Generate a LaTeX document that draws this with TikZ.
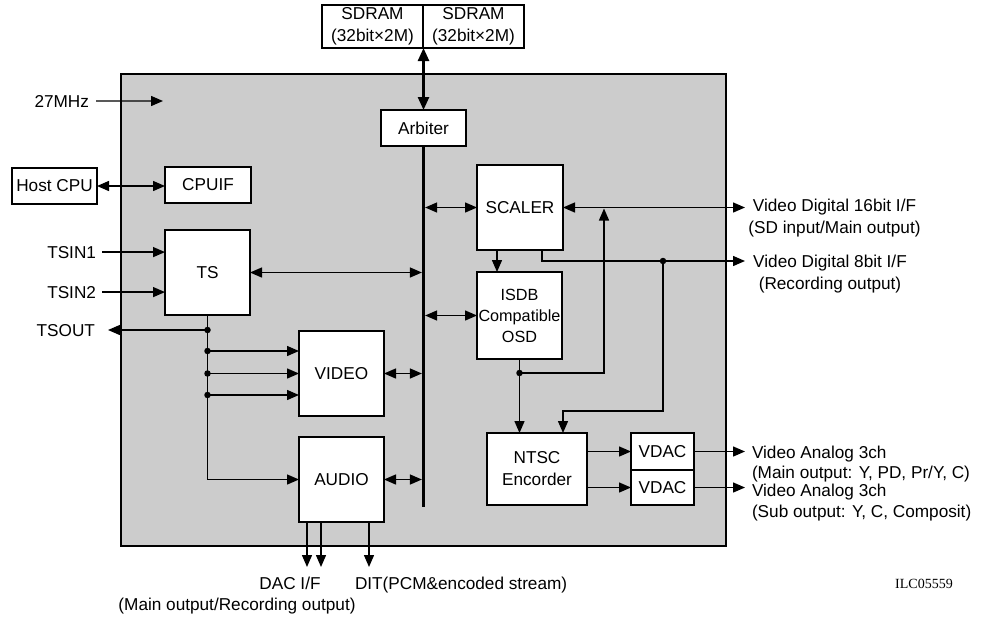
\documentclass[tikz,border=0pt]{standalone}
\usepackage{fontspec}
\setmainfont{Liberation Sans}
\newfontfamily\timesfont{Liberation Serif}
\usetikzlibrary{arrows.meta}
\definecolor{chipgray}{HTML}{CCCCCC}
\begin{document}
\begin{tikzpicture}[x=1pt,y=-1pt,
  font=\fontsize{17.2}{22}\selectfont,
  >={Triangle[length=12pt,width=10pt]},
  box/.style={draw, fill=white, line width=1.4pt, inner sep=0pt, outer sep=0pt, align=center, anchor=north west},
  ln/.style={line width=1.4pt},
  txt/.style={inner sep=0pt, outer sep=0pt},
  dotc/.style={fill, circle, inner sep=0pt, minimum size=6.5pt}]
\useasboundingbox (0,0) rectangle (981,619);
% chip
\node[draw, fill=chipgray, line width=1.4pt, inner sep=0pt, outer sep=0pt, minimum width=605pt, minimum height=472pt, anchor=north west] (chip) at (121,74) {};
% boxes
\node[box, minimum width=101pt, minimum height=43pt] (sdl) at (322,5) {SDRAM\\(32bit×2M)};
\node[box, minimum width=101pt, minimum height=43pt] (sdr) at (423,5) {SDRAM\\(32bit×2M)};
\node[box, minimum width=85pt, minimum height=36pt] (arb) at (381,110) {Arbiter};
\node[box, minimum width=85pt, minimum height=36pt] (host) at (12,168) {Host CPU};
\node[box, minimum width=86pt, minimum height=36pt] (cpuif) at (165,167) {CPUIF};
\node[box, minimum width=85pt, minimum height=85pt] (ts) at (165,230) {TS};
\node[box, minimum width=85pt, minimum height=85pt] (video) at (299,331) {VIDEO};
\node[box, minimum width=85pt, minimum height=85pt] (audio) at (299,437) {AUDIO};
\node[box, minimum width=86pt, minimum height=85pt] (scaler) at (477,165) {SCALER};
\node[box, minimum width=85pt, minimum height=87pt, font=\fontsize{16.2}{21}\selectfont] (osd) at (477,272) {ISDB\\Compatible\\OSD};
\node[box, minimum width=100pt, minimum height=72pt] (ntsc) at (487,433) {NTSC\\Encorder};
\node[box, minimum width=63pt, minimum height=37pt] (vdac1) at (631,433) {VDAC};
\node[box, minimum width=63pt, minimum height=35pt] (vdac2) at (631,470) {VDAC};
% bus
\coordinate (bb) at (423.5,507);
\draw[line width=3.2pt] (arb.south) -- (bb);
\draw[line width=2.4pt,{Triangle[length=13pt,width=11pt]}-{Triangle[length=13pt,width=11pt]}] (arb.north |- sdl.south east) -- (arb.north);
% left inputs
\node[txt, anchor=base east] (t27) at (89,107) {27MHz};
\coordinate (c27) at (163,101);
\draw[ln,->] ([xshift=7pt]t27.east) -- (c27);
\draw[ln,<->] (host.east) -- (host.east -| cpuif.west);
\node[txt, anchor=base east] (tsin1) at (96,258) {TSIN1};
\node[txt, anchor=base east] (tsin2) at (96,298) {TSIN2};
\node[txt, anchor=base east] (tsout) at (95,336) {TSOUT};
\draw[ln,->] ([xshift=6pt]tsin1.east) -- (tsin1.east -| ts.west);
\draw[ln,->] ([xshift=6pt]tsin2.east) -- (tsin2.east -| ts.west);
% TS trunk
\coordinate (j0) at (ts.south |- 0,330);
\coordinate (j1) at (ts.south |- 0,351);
\coordinate (j2) at (ts.south |- 0,373.5);
\coordinate (j3) at (ts.south |- 0,395);
\draw[ln,->] (ts.south) |- (audio.west);
\draw[ln,->] (j0) -- ([xshift=13pt]tsout.east |- j0);
\draw[ln,->] (j1) -- (j1 -| video.west);
\draw[ln,->] (j2) -- (j2 -| video.west);
\draw[ln,->] (j3) -- (j3 -| video.west);
\foreach \j in {j0,j1,j2,j3} \node[dotc] at (\j) {};
% bus connections
\draw[ln,<->] (ts.east) -- ([xshift=-1.6pt]bb |- ts.east);
\draw[ln,<->] (video.east) -- ([xshift=-1.6pt]bb |- video.east);
\draw[ln,<->] (audio.east) -- ([xshift=-1.6pt]bb |- audio.east);
\draw[ln,<->] (scaler.west) -- ([xshift=1.6pt]bb |- scaler.west);
\draw[ln,<->] (osd.west) -- ([xshift=1.6pt]bb |- osd.west);
% scaler / osd / ntsc
\coordinate (o16) at (745,207.5);
\coordinate (o8) at (745,261);
\coordinate (j8) at (663,261);
\coordinate (k) at (563,411);
\coordinate (jo) at (osd.south |- 0,373);
\coordinate (up) at (604,208.5);
\draw[ln,<->] (scaler.east) -- (o16);
\draw[ln,->] ([xshift=20pt]scaler.south west) -- ([xshift=20pt]scaler.south west |- osd.north);
\draw[ln,->] ([xshift=-21pt]scaler.south east) |- (o8);
\draw[ln,->] (j8) |- (k) -- (k |- ntsc.north);
\draw[ln,->] (osd.south) -- (osd.south |- ntsc.north);
\draw[ln,->] (jo) -| (up);
\node[dotc] at (j8) {};
\node[dotc] at (jo) {};
\draw[ln,->] (ntsc.east |- vdac1.west) -- (vdac1.west);
\draw[ln,->] (ntsc.east |- vdac2.west) -- (vdac2.west);
\draw[ln,->] (vdac1.east) -- (vdac1.east -| o16);
\draw[ln,->] (vdac2.east) -- (vdac2.east -| o16);
% audio outputs
\draw[ln,->] ([xshift=8pt]audio.south west) -- +(0,45);
\draw[ln,->] ([xshift=22pt]audio.south west) -- +(0,45);
\draw[ln,->] ([xshift=70pt]audio.south west) -- +(0,45);
% right texts
\node[txt, anchor=base] (vd16a) at (834.5,211) {Video Digital 16bit I/F};
\node[txt, anchor=base] (vd16b) at (834.5,233) {(SD input/Main output)};
\node[txt, anchor=base] (vd8a) at (830,267) {Video Digital 8bit I/F};
\node[txt, anchor=base] (vd8b) at (830,289) {(Recording output)};
\node[txt, anchor=base west] (va1a) at (752,458) {Video Analog 3ch};
\node[txt, anchor=base west] (va1b) at (752,478) {(Main output: Y, PD, Pr/Y, C)};
\node[txt, anchor=base west] (va2a) at (752,496) {Video Analog 3ch};
\node[txt, anchor=base west] (va2b) at (752,517) {(Sub output: Y, C, Composit)};
% bottom texts
\node[txt, anchor=base] (dac) at (290,589) {DAC I/F};
\node[txt, anchor=base west] (dit) at (355,589) {DIT(PCM\&encoded stream)};
\node[txt, anchor=base] (dacb) at (237,610) {(Main output/Recording output)};
\node[txt, anchor=base, font=\timesfont\fontsize{14}{16}\selectfont] (ilc) at (924,588) {ILC05559};
\end{tikzpicture}
\end{document}
